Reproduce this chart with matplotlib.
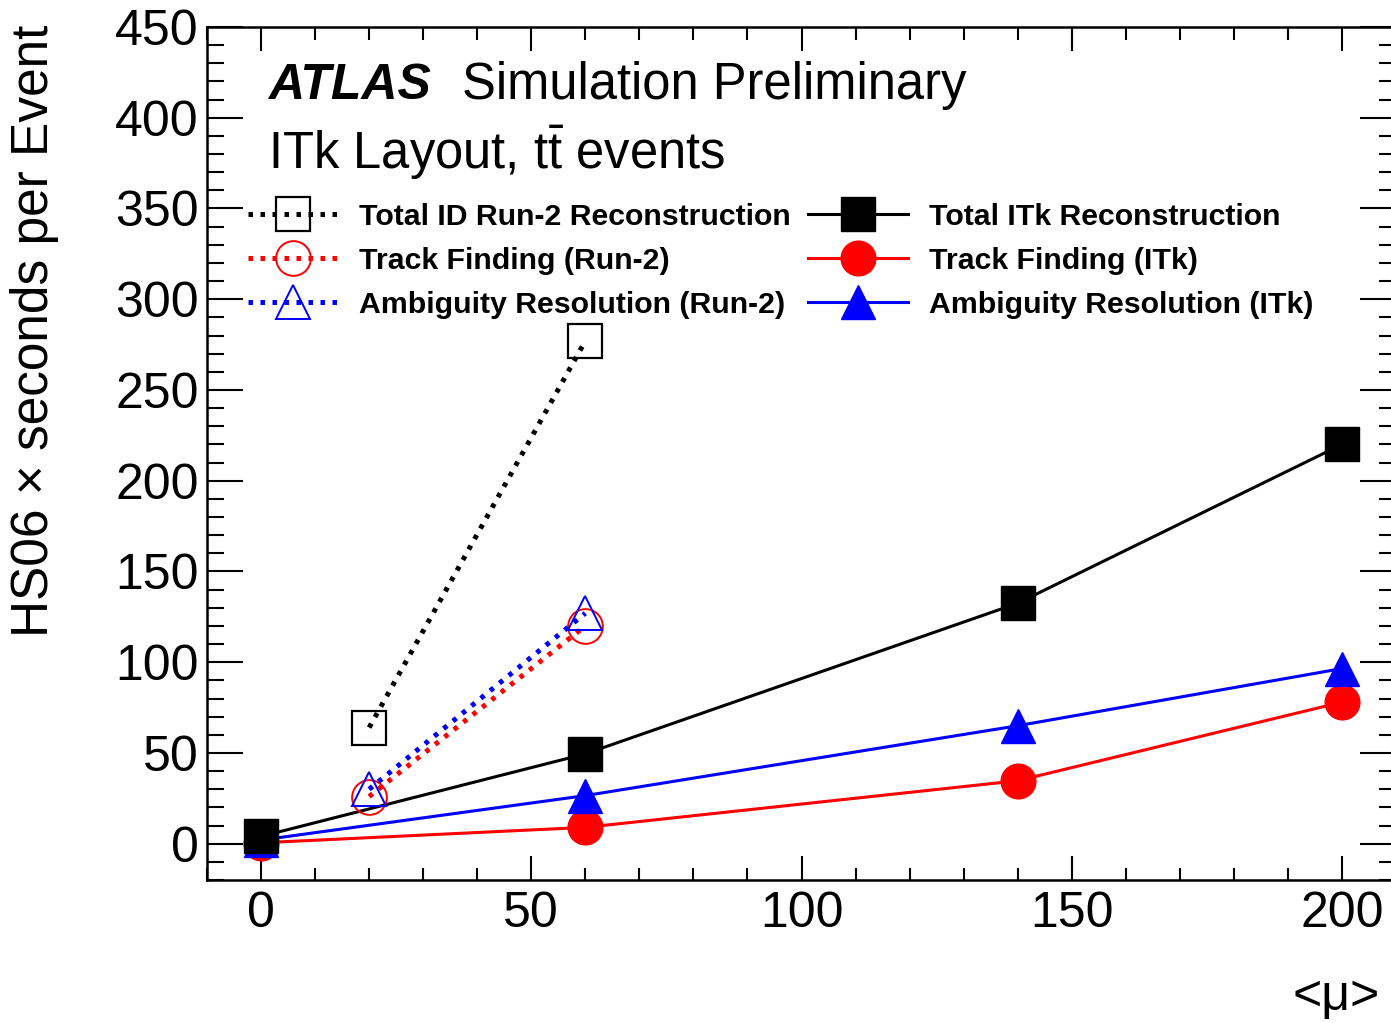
import numpy as np
import matplotlib
matplotlib.use("Agg")
import matplotlib.pyplot as plt
from matplotlib.ticker import MultipleLocator

plt.rcParams['font.family'] = ['Liberation Sans', 'DejaVu Sans']
plt.rcParams['mathtext.fontset'] = 'custom'
plt.rcParams['mathtext.rm'] = 'Liberation Sans'

# Run-2 reconstruction (mu = 20, 60)
mu_run2 = [20, 60]
total_run2 = [64, 277]
tf_run2 = [26, 120]
ar_run2 = [30, 127]

# ITk reconstruction (mu = 0, 60, 140, 200)
mu_itk = [0, 60, 140, 200]
total_itk = [4, 49.5, 132.5, 220]
tf_itk = [0.5, 9, 34.7, 78]
ar_itk = [2, 26.5, 65, 96.5]

W, H = 1391, 1023
fig = plt.figure(figsize=(W / 100, H / 100), dpi=100)
ax = fig.add_axes([207 / W, (H - 880) / H, (1396 - 207) / W, (880 - 27) / H])

ms = 25
dot = (0, (0.9, 1.5))
lw_dot = 3.6
lw_sol = 2.2

h_itk_tot, = ax.plot(mu_itk, total_itk, '-', color='black', lw=lw_sol, marker='s', ms=ms, zorder=4)
h_itk_tf, = ax.plot(mu_itk, tf_itk, '-', color='#ff0000', lw=lw_sol, marker='o', ms=ms, zorder=2)
h_itk_ar, = ax.plot(mu_itk, ar_itk, '-', color='#0000ff', lw=lw_sol, marker='^', ms=ms, zorder=3)

h_r2_tot, = ax.plot(mu_run2, total_run2, color='black', ls=dot, lw=lw_dot, marker='s', ms=ms,
                    mfc='none', mew=1.6, zorder=5)
h_r2_tf, = ax.plot(mu_run2, tf_run2, color='#ff0000', ls=dot, lw=lw_dot, marker='o', ms=ms,
                   mfc='none', mew=1.4, zorder=5)
h_r2_ar, = ax.plot(mu_run2, ar_run2, color='#0000ff', ls=dot, lw=lw_dot, marker='^', ms=ms,
                   mfc='none', mew=1.4, zorder=5)

ax.set_xlim(-10, 210)
ax.set_ylim(-20, 450)
ax.xaxis.set_major_locator(MultipleLocator(50))
ax.xaxis.set_minor_locator(MultipleLocator(10))
ax.yaxis.set_major_locator(MultipleLocator(50))
ax.yaxis.set_minor_locator(MultipleLocator(10))
ax.tick_params(axis='both', which='both', direction='in', top=True, right=True, width=1.5,
               labelsize=36)
ax.tick_params(axis='x', which='major', length=17, pad=8)
ax.tick_params(axis='x', which='minor', length=9)
ax.tick_params(axis='y', which='major', length=26, pad=6)
ax.tick_params(axis='y', which='minor', length=12)
for s in ax.spines.values():
    s.set_linewidth(1.8)

fig.text(268 / W, 1 - 86 / H, 'ATLAS', fontsize=36, fontweight='bold', fontstyle='italic',
         va='center', ha='left')
fig.text(462 / W, 1 - 86 / H, 'Simulation Preliminary', fontsize=36.5, va='center', ha='left')
fig.text(268 / W, 1 - 153 / H, r'ITk Layout, $\mathrm{t\bar{t}}$ events', fontsize=36.5,
         va='center', ha='left')

fig.text(35 / W, 1 - 25 / H, 'HS06 \u00d7 seconds per Event', fontsize=37, rotation=90,
         va='top', ha='center')
fig.text(1380 / W, 1 - 997 / H, '<\u03bc>', fontsize=36, va='center', ha='right')

leg_font = {'weight': 'bold', 'size': 21.8}
leg1 = ax.legend([h_r2_tot, h_r2_tf, h_r2_ar],
                 ['Total ID Run-2 Reconstruction', 'Track Finding (Run-2)', 'Ambiguity Resolution (Run-2)'],
                 loc='upper left', bbox_to_anchor=((248 - 207) / 1189, (880 - 203) / 853),
                 frameon=False, prop=leg_font, handlelength=3.0, handletextpad=0.66,
                 labelspacing=0.53, borderaxespad=0, borderpad=0)
ax.add_artist(leg1)
leg2 = ax.legend([h_itk_tot, h_itk_tf, h_itk_ar],
                 ['Total ITk Reconstruction', 'Track Finding (ITk)', 'Ambiguity Resolution (ITk)'],
                 loc='upper left', bbox_to_anchor=((808 - 207) / 1189, (880 - 203) / 853),
                 frameon=False, prop=leg_font, handlelength=3.3, handletextpad=0.7,
                 labelspacing=0.53, borderaxespad=0, borderpad=0)

fig.savefig('out.png', dpi=100)
